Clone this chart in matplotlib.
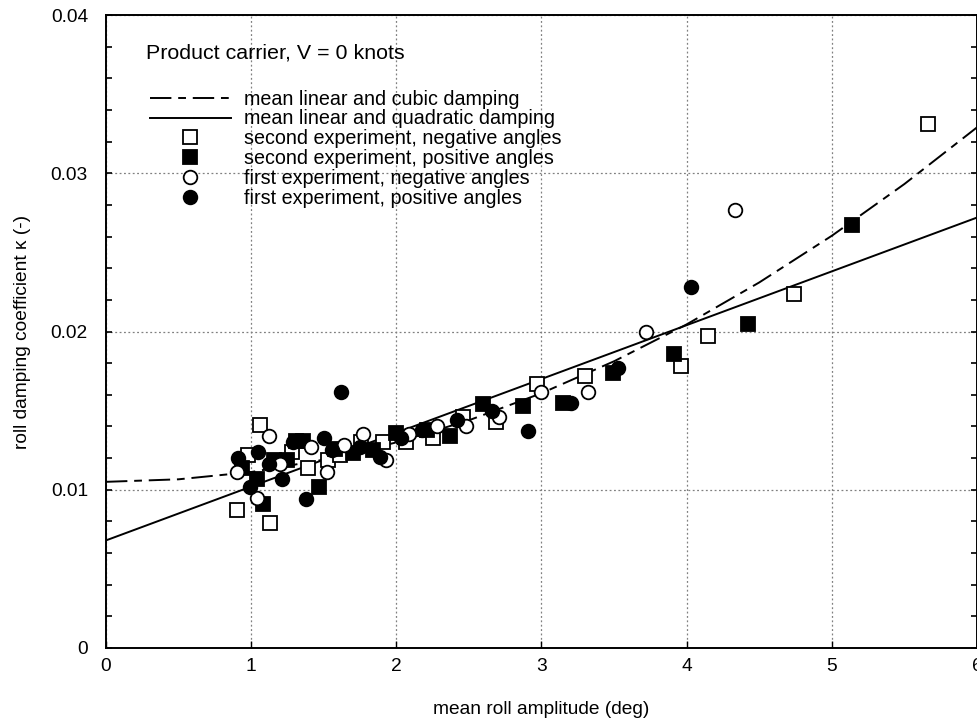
import matplotlib
matplotlib.use("Agg")
import matplotlib.pyplot as plt
from matplotlib.lines import Line2D

plt.rcParams['font.family'] = ['Liberation Sans', 'DejaVu Sans']

# ---- data ----
sq_open_x = [0.90, 1.06, 1.13, 0.98, 1.28, 1.39, 1.53, 1.61, 1.76, 1.91, 2.07, 2.25,
             2.46, 2.69, 2.97, 3.30, 3.96, 4.15, 4.74, 5.66]
sq_open_y = [0.0087, 0.0141, 0.0079, 0.0122, 0.0124, 0.0114, 0.0119, 0.0122, 0.0130,
             0.0130, 0.0130, 0.0133, 0.0146, 0.0143, 0.0167, 0.0172, 0.0178, 0.0197,
             0.0224, 0.0331]

sq_fill_x = [0.94, 1.04, 1.08, 1.16, 1.25, 1.31, 1.36, 1.47, 1.58, 1.70, 1.84, 2.00,
             2.21, 2.37, 2.60, 2.87, 3.15, 3.49, 3.91, 4.42, 5.14]
sq_fill_y = [0.0114, 0.0107, 0.0091, 0.0119, 0.0119, 0.0131, 0.0131, 0.0102, 0.0126,
             0.0123, 0.0125, 0.0136, 0.0138, 0.0134, 0.0154, 0.0153, 0.0155, 0.0174,
             0.0186, 0.0205, 0.0267]

ci_open_x = [0.90, 1.04, 1.12, 1.20, 1.41, 1.52, 1.64, 1.77, 1.93, 2.09, 2.28, 2.48,
             2.71, 3.00, 3.32, 3.72, 4.33]
ci_open_y = [0.0111, 0.0095, 0.0134, 0.0116, 0.0127, 0.0111, 0.0128, 0.0135, 0.0119,
             0.0135, 0.0140, 0.0140, 0.0146, 0.0162, 0.0162, 0.0200, 0.0277]

ci_fill_x = [0.91, 0.99, 1.05, 1.12, 1.21, 1.29, 1.38, 1.50, 1.56, 1.62, 1.75, 1.89,
             2.03, 2.18, 2.42, 2.66, 2.91, 3.20, 3.53, 4.03]
ci_fill_y = [0.0120, 0.0102, 0.0124, 0.0116, 0.0107, 0.0130, 0.0094, 0.0133, 0.0125,
             0.0162, 0.0127, 0.0121, 0.0133, 0.0138, 0.0144, 0.0150, 0.0137, 0.0155,
             0.0177, 0.0228]

cubic_x = [0, 0.5, 1, 1.5, 2, 2.5, 3, 3.5, 4, 4.5, 5, 5.5, 6]
cubic_y = [0.0105, 0.01066, 0.01112, 0.0119, 0.01299, 0.01439, 0.0161, 0.01812,
           0.02045, 0.0231, 0.02605, 0.02932, 0.0329]

quad_x = [0, 6]
quad_y = [0.0068, 0.0272]

x_ticks = [0, 1, 2, 3, 4, 5, 6]
x_labels = ['0', '1', '2', '3', '4', '5', '6']
y_ticks = [0, 0.01, 0.02, 0.03, 0.04]
y_labels = ['0', '0.01', '0.02', '0.03', '0.04']

legend_labels = ['mean linear and cubic damping',
                 'mean linear and quadratic damping',
                 'second experiment, negative angles',
                 'second experiment, positive angles',
                 'first experiment, negative angles',
                 'first experiment, positive angles']

# ---- figure ----
fig = plt.figure(figsize=(9.78, 7.25), dpi=100)
ax = fig.add_axes([106/978, 1-648/725, 871/978, 633/725])

FS = 13.8
LFS = 14.2
dash = [11, 3.5, 4, 3.5]
ms = 9.8
mew = 1.3
LW = 1.4

ax.plot(cubic_x, cubic_y, color='black', lw=LW, dashes=dash, zorder=3)
ax.plot(quad_x, quad_y, color='black', lw=LW, zorder=3)

ax.plot(sq_open_x, sq_open_y, ls='none', marker='s', ms=ms, mfc='white', mec='black', mew=mew, zorder=4)
ax.plot(sq_fill_x, sq_fill_y, ls='none', marker='s', ms=ms, mfc='black', mec='black', mew=mew, zorder=4)
ax.plot(ci_open_x, ci_open_y, ls='none', marker='o', ms=ms, mfc='white', mec='black', mew=mew, zorder=4)
ax.plot(ci_fill_x, ci_fill_y, ls='none', marker='o', ms=ms, mfc='black', mec='black', mew=mew, zorder=4)

ax.set_xlim(0, 6)
ax.set_ylim(0, 0.04)
ax.set_xticks(x_ticks)
ax.set_xticklabels(x_labels, fontsize=FS)
ax.set_yticks(y_ticks)
ax.set_yticklabels(y_labels, fontsize=FS)
ax.set_yticks([i * 0.002 for i in range(21)], minor=True)

ax.tick_params(axis='x', direction='in', length=5, width=1, top=False, bottom=True, pad=7)
ax.tick_params(axis='y', which='both', direction='in', length=4, width=1.2, left=True, right=True, pad=13)

for s in ax.spines.values():
    s.set_linewidth(1.4)

ax.grid(True, which='major', color='#808080', linestyle=(0, (1.5, 2)), linewidth=0.9)
ax.set_axisbelow(True)

ax.set_xlabel('mean roll amplitude (deg)', fontsize=FS, labelpad=19)
ax.set_ylabel('roll damping coefficient \u03ba (-)', fontsize=FS, labelpad=14)

ax.text(0.046, 0.940, 'Product carrier, V = 0 knots', transform=ax.transAxes,
        fontsize=15.4, ha='left', va='center')

handles = [
    Line2D([], [], color='black', lw=LW, dashes=dash),
    Line2D([], [], color='black', lw=LW),
    Line2D([], [], ls='none', marker='s', ms=ms, mfc='white', mec='black', mew=mew),
    Line2D([], [], ls='none', marker='s', ms=ms, mfc='black', mec='black', mew=mew),
    Line2D([], [], ls='none', marker='o', ms=ms, mfc='white', mec='black', mew=mew),
    Line2D([], [], ls='none', marker='o', ms=ms, mfc='black', mec='black', mew=mew),
]
leg = ax.legend(handles, legend_labels, loc='upper left', bbox_to_anchor=(0.0505, 0.882),
                frameon=False, fontsize=LFS, handlelength=4.1, handletextpad=0.68,
                labelspacing=0.04, borderpad=0, borderaxespad=0)

fig.savefig('out.png', dpi=100)
